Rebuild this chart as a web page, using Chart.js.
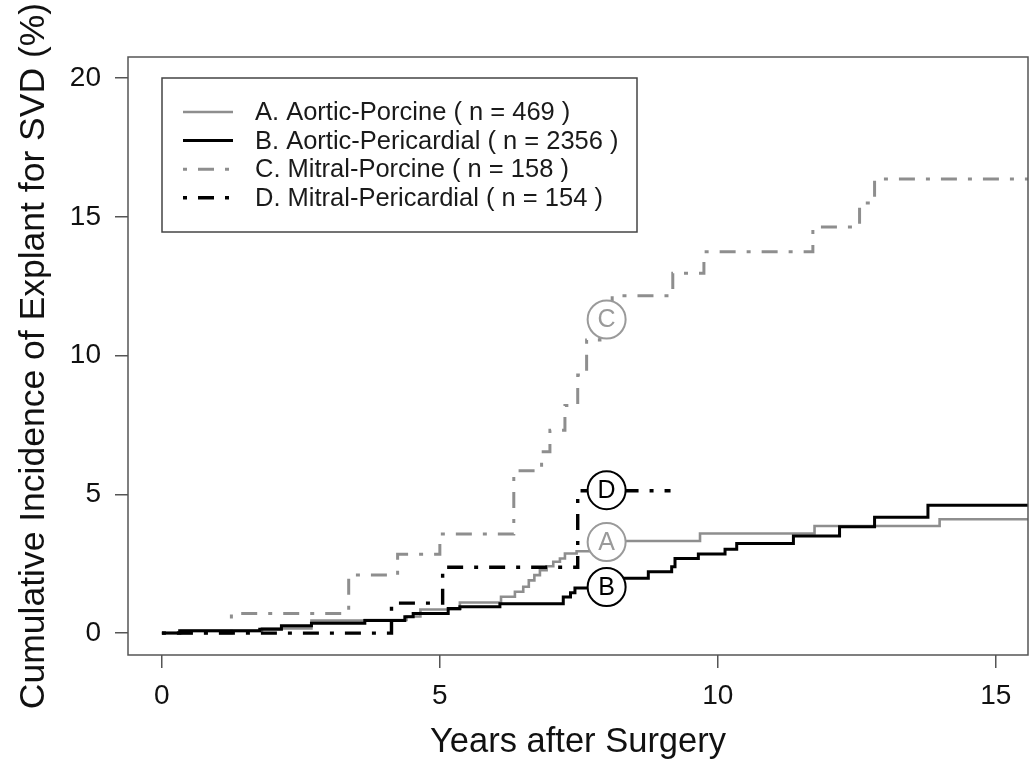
<!DOCTYPE html>
<html><head><meta charset="utf-8">
<script src="https://cdn.jsdelivr.net/npm/chart.js@4.4.1/dist/chart.umd.min.js"></script>
<style>html,body{margin:0;padding:0;background:#fff;overflow:hidden}canvas{display:block}</style>
</head><body><canvas id="c" width="1031" height="764" style="width:1031px;height:764px"></canvas>
<script>
// ---- data ----
const seriesLabels = ['A. Aortic-Porcine ( n = 469 )', 'B. Aortic-Pericardial ( n = 2356 )', 'C. Mitral-Porcine ( n = 158 )', 'D. Mitral-Pericardial ( n = 154 )'];
const aYears  = [0, 0.35, 1.8, 2.69, 3.65, 4.4, 4.65, 5.36, 6.1, 6.35, 6.5, 6.6, 6.7, 6.8, 6.92, 7.04, 7.16, 7.25, 7.46, 8.1, 9.68, 11.74, 13.99, 15.6];
const aValues = [0, 0.08, 0.17, 0.45, 0.47, 0.6, 0.85, 1.1, 1.31, 1.49, 1.67, 1.9, 2.09, 2.27, 2.41, 2.57, 2.69, 2.87, 2.95, 3.32, 3.59, 3.86, 4.1, 4.1];
const bYears  = [0, 0.32, 1.76, 2.15, 2.69, 3.65, 4.37, 4.52, 5.15, 5.36, 6.08, 7.22, 7.35, 7.43, 8.1, 8.75, 9.17, 9.23, 9.65, 10.13, 10.34, 11.36, 12.19, 12.82, 13.78, 15.6];
const bValues = [0, 0.08, 0.14, 0.26, 0.35, 0.45, 0.59, 0.71, 0.89, 0.95, 1.06, 1.3, 1.45, 1.62, 1.98, 2.21, 2.39, 2.69, 2.85, 3.02, 3.23, 3.5, 3.83, 4.17, 4.61, 4.61];
const cYears  = [0, 1.25, 3.36, 4.24, 5.0, 6.33, 6.83, 6.98, 7.25, 7.48, 7.64, 7.88, 8.1, 9.19, 9.75, 11.71, 12.55, 12.82, 15.6];
const cValues = [0, 0.71, 2.09, 2.84, 3.57, 5.85, 6.53, 7.31, 8.2, 9.3, 10.56, 11.3, 12.16, 12.97, 13.74, 14.63, 15.5, 16.36, 16.36];
const dYears  = [0, 4.13, 5.05, 7.48, 9.15];
const dValues = [0, 1.08, 2.37, 5.13, 5.13];
const labelLetters = ['C', 'D', 'A', 'B'];
const labelYears   = [8.0, 8.0, 8.0, 8.0];
const labelValues  = [11.3, 5.15, 3.28, 1.66];
const xTicks = [0, 5, 10, 15];
const yTicks = [0, 5, 10, 15, 20];
const xTitle = 'Years after Surgery';
const yTitle = 'Cumulative Incidence of Explant for SVD (%)';

// ---- styles ----
const GRAY = '#8e8e8e', BLACK = '#000000', AXIS = '#555555';
const dashDot = [4, 11, 16, 11];
const FONT = '"Liberation Sans", Arial, Helvetica, sans-serif';
const pts = (xs, ys) => xs.map((x, i) => ({x: x, y: ys[i]}));
const letterColors = {A: '#9a9a9a', B: BLACK, C: '#9a9a9a', D: BLACK};

const frame = {
  id: 'frame',
  afterDraw(chart) {
    const {ctx, chartArea: a} = chart;
    ctx.save();
    ctx.strokeStyle = AXIS; ctx.lineWidth = 1.5;
    ctx.strokeRect(a.left, a.top, a.right - a.left, a.bottom - a.top);
    ctx.restore();
  }
};
const letters = {
  id: 'letters',
  afterDatasetsDraw(chart) {
    const {ctx} = chart;
    chart.data.datasets.forEach((ds, di) => {
      if (!ds.isLabel) return;
      const meta = chart.getDatasetMeta(di);
      meta.data.forEach((el, i) => {
        const L = labelLetters[i];
        ctx.save();
        ctx.font = '25px ' + FONT;
        ctx.fillStyle = letterColors[L];
        ctx.textAlign = 'center'; ctx.textBaseline = 'middle';
        ctx.fillText(L, el.x, el.y + 1);
        ctx.restore();
      });
    });
  }
};
const legendBox = {
  id: 'legendBox',
  afterDraw(chart) {
    const {ctx, chartArea: a} = chart;
    const x0 = a.left + 34, y0 = a.top + 21, w = 475, h = 154;
    ctx.save();
    ctx.fillStyle = '#fff'; ctx.fillRect(x0, y0, w, h);
    ctx.strokeStyle = '#444'; ctx.lineWidth = 1.5; ctx.strokeRect(x0, y0, w, h);
    ctx.font = '25.5px ' + FONT;
    ctx.textBaseline = 'middle'; ctx.textAlign = 'left';
    let row = 0;
    chart.data.datasets.forEach((ds) => {
      if (ds.isLabel) return;
      const y = y0 + 34 + row * 28.6;
      ctx.save();
      ctx.strokeStyle = ds.borderColor; ctx.lineWidth = ds.borderWidth;
      ctx.setLineDash(ds.borderDash || []);
      ctx.beginPath(); ctx.moveTo(x0 + 21, y); ctx.lineTo(x0 + 71, y); ctx.stroke();
      ctx.restore();
      ctx.fillStyle = '#1a1a1a';
      ctx.fillText(ds.label, x0 + 93, y + 1);
      row++;
    });
    ctx.restore();
  }
};

new Chart(document.getElementById('c'), {
  type: 'line',
  data: {
    datasets: [
      {label: seriesLabels[0], data: pts(aYears, aValues), borderColor: GRAY, borderWidth: 2.6, stepped: 'before', pointRadius: 0, fill: false, order: 4},
      {label: seriesLabels[1], data: pts(bYears, bValues), borderColor: BLACK, borderWidth: 3, stepped: 'before', pointRadius: 0, fill: false, order: 2},
      {label: seriesLabels[2], data: pts(cYears, cValues), borderColor: GRAY, borderWidth: 3, borderDash: dashDot, stepped: 'before', pointRadius: 0, fill: false, order: 3},
      {label: seriesLabels[3], data: pts(dYears, dValues), borderColor: BLACK, borderWidth: 3.4, borderDash: dashDot, stepped: 'before', pointRadius: 0, fill: false, order: 1},
      {label: 'labels', isLabel: true, type: 'scatter', showLine: false, data: pts(labelYears, labelValues),
       pointRadius: 19, pointHoverRadius: 19, pointBackgroundColor: '#fff',
       pointBorderColor: labelLetters.map(l => letterColors[l]), pointBorderWidth: 2, order: 0}
    ]
  },
  options: {
    responsive: false, animation: false, devicePixelRatio: 1,
    layout: {autoPadding: false, padding: {top: 57, right: 3, left: 0, bottom: 0}},
    plugins: {legend: {display: false}, tooltip: {enabled: false}},
    scales: {
      x: {
        type: 'linear', min: -0.61, max: 15.58,
        afterFit: s => { s.height = 109; s.paddingLeft = 0; s.paddingRight = 0; },
        afterBuildTicks: s => { s.ticks = xTicks.map(v => ({value: v})); },
        border: {display: false},
        grid: {display: true, drawOnChartArea: false, drawTicks: true, tickLength: 13, color: AXIS, lineWidth: 1.5},
        ticks: {color: '#111', font: {size: 28, family: FONT}, padding: 11, maxRotation: 0, autoSkip: false},
        title: {display: true, text: xTitle, color: '#111', font: {size: 34.5, family: FONT}, padding: {top: 0, bottom: 1}}
      },
      y: {
        type: 'linear', min: -0.79, max: 20.76,
        afterFit: s => { s.width = 128; s.paddingTop = 0; s.paddingBottom = 0; },
        afterBuildTicks: s => { s.ticks = yTicks.map(v => ({value: v})); },
        border: {display: false},
        grid: {display: true, drawOnChartArea: false, drawTicks: true, tickLength: 13, color: AXIS, lineWidth: 1.5},
        ticks: {color: '#111', font: {size: 28, family: FONT}, padding: 14, autoSkip: false},
        title: {display: true, text: yTitle, color: '#111', font: {size: 35.5, family: FONT}, padding: {top: 13, bottom: 0}}
      }
    }
  },
  plugins: [frame, letters, legendBox]
});
</script>
</body></html>
